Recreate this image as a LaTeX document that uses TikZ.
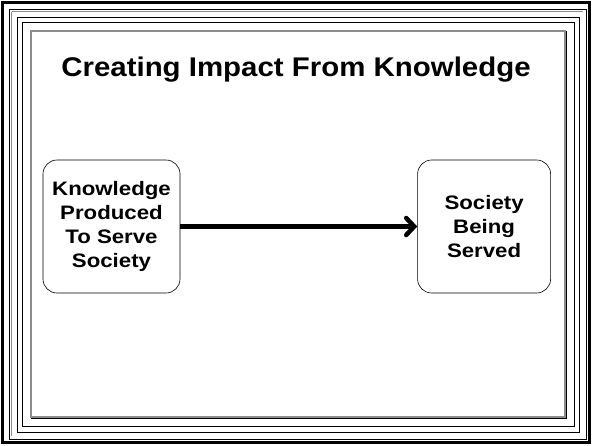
\documentclass[tikz,border=0pt]{standalone}
\usepackage{fontspec}
\setmainfont{Liberation Sans}
\newfontfamily\headfont[FakeStretch=1.09]{Liberation Sans}
\newfontfamily\boxfont[FakeStretch=1.14]{Liberation Sans}
\usetikzlibrary{arrows.meta,positioning}
\tikzstyle{frame}=[draw=black,line width=0.8pt]
\tikzstyle{shade}=[draw=black!45,line width=0.8pt]
\tikzstyle{idea}=[draw=black,rounded corners=14pt,minimum width=137pt,minimum height=133pt,inner sep=0pt,align=center,line width=0.6pt,font=\boxfont\bfseries\fontsize{19.5}{24}\selectfont]
\tikzstyle{heading}=[font=\headfont\bfseries\fontsize{27}{32}\selectfont]
\tikzstyle{link}=[-{Straight Barb[length=8pt,width=17pt,line cap=round]},line width=4.5pt]

\begin{document}
\begin{tikzpicture}[x=1pt,y=-1pt]
  \useasboundingbox (0,0) rectangle (592,445);
  % frames
  \draw[frame,line width=2.5pt] (2.5,2.5) rectangle (589.5,442.5);
  \draw[frame] (9,9) rectangle (586,439);
  \draw[shade] (11.5,11.5) -- (11.5,436) (11.5,11.5) -- (583,11.5);
  \draw[frame] (17,17) rectangle (579,432);
  \draw[frame] (22,22) rectangle (574,426);
  \draw[shade,line width=2pt] (31,31) rectangle (565,417);
  \draw[frame] (566.5,31) -- (566.5,418.5) -- (31,418.5);

  \node[heading,anchor=base] (title) at (296,76) {Creating Impact From Knowledge};
  \node[idea] (known) at (111.5,226.5) {Knowledge\\Produced\\To Serve\\Society};
  \node[idea,minimum width=133pt,right=237pt of known] (served) {Society\\Being\\Served};

  \draw[link] (known) -- (served);
\end{tikzpicture}
\end{document}
